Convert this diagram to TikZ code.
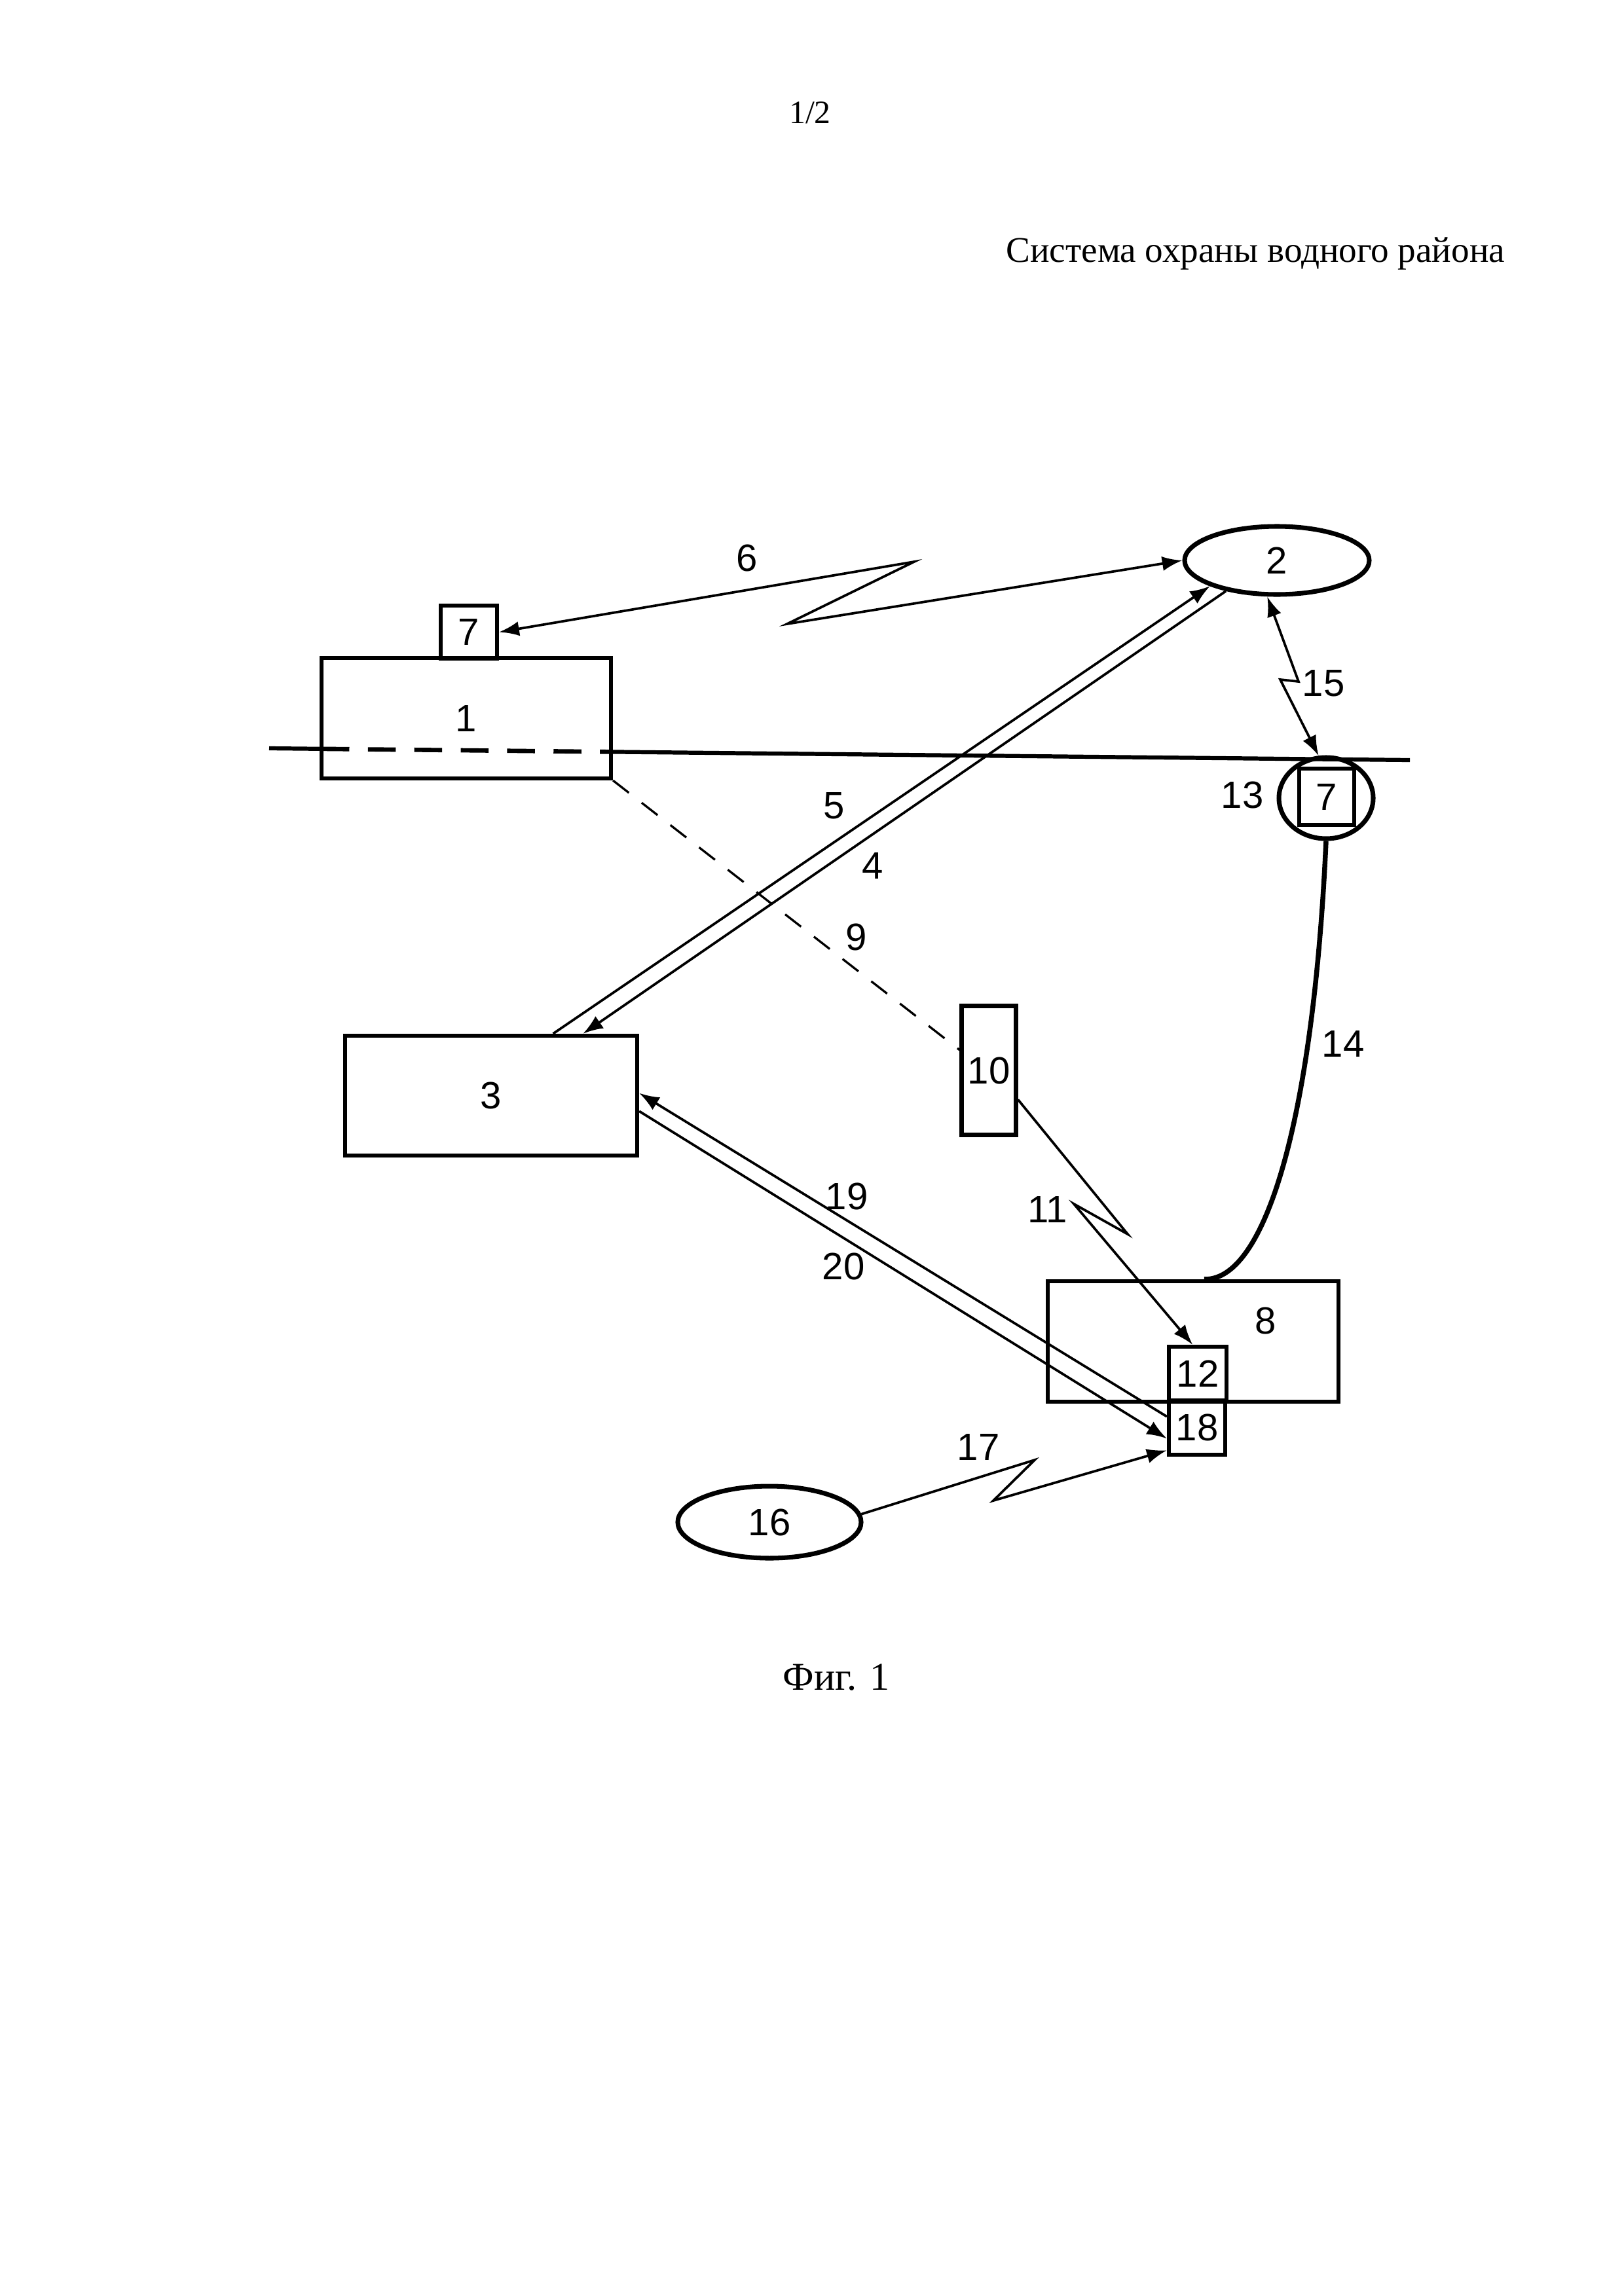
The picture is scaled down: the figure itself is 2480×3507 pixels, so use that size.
\documentclass[tikz,border=0pt]{standalone}
\usepackage{fontspec}
\setmainfont{Liberation Serif}
\newfontfamily\labfont{Liberation Sans}
\usetikzlibrary{shapes.geometric,arrows.meta,calc}
\begin{document}
\begin{tikzpicture}[x=0.084677mm,y=-0.084677mm,
  sz/.style 2 args={minimum width=#1*0.084677mm,minimum height=#2*0.084677mm},
  num/.style={font=\labfont\fontsize{14}{16}\selectfont,inner sep=0pt},
  box/.style={draw,line width=1.5pt,inner sep=0pt,num},
  oval/.style={draw,ellipse,line width=1.7pt,inner sep=0pt,num},
  conn/.style={line width=0.9pt},
  tipend/.style={-{Latex[length=2.6mm,width=1.9mm]}},
  tipboth/.style={{Latex[length=2.6mm,width=1.9mm]}-{Latex[length=2.6mm,width=1.9mm]}},
  ser/.style={font=\fontsize{13.3}{16}\selectfont,inner sep=0pt}]
\useasboundingbox (0,0) rectangle (2480,3507);

% header texts
\node[ser,font=\fontsize{12}{14}\selectfont] (pg) at (1237,172) {1/2};
\node[ser,anchor=east] (title) at (2299,387) {Система охраны водного района};
\node[ser,font=\fontsize{14.5}{16}\selectfont] (fig) at (1277,2562) {Фиг. 1};

% nodes
\node[box,sz={442}{184}] (b1) at (712,1097) {1};
\node[box,sz={86}{81}] (b7a) at (716,965.5) {7};
\node[oval,sz={282}{104}] (e2) at (1950,856) {2};
\node[oval,sz={144}{124}] (c13) at (2025,1219) {};
\node[box,sz={84}{86}] (b7b) at (2026,1217) {7};
\node[box,sz={446}{183}] (b3) at (750,1673.5) {3};
\node[box,sz={83}{197}] (b10) at (1510,1635) {10};
\node[box,sz={444}{184}] (b8) at (1822,2049) {};
\node[box,sz={88}{82}] (b12) at (1829,2098) {12};
\node[box,sz={86}{83}] (b18) at (1828,2180.5) {18};
\node[oval,sz={280}{110}] (e16) at (1175,2325) {16};

% labels
\node[num] (l6) at (1141,852) {6};
\node[num] (l15) at (2021,1044) {15};
\node[num] (l13) at (1897,1214) {13};
\node[num] (l5) at (1274,1231) {5};
\node[num] (l4) at (1333,1322) {4};
\node[num] (l9) at (1308,1431) {9};
\node[num] (l14) at (2051,1594) {14};
\node[num] (l11) at (1600,1847) {11};
\node[num] (l19) at (1293,1827) {19};
\node[num] (l20) at (1288,1934) {20};
\node[num] (l8) at (1933,2017) {8};
\node[num] (l17) at (1494,2210) {17};

% water line
\coordinate (wl) at (411,1143);
\coordinate (wr) at (2153,1161);
\draw[line width=1.5pt] (wl) -- ($(wl)!0.0459!(wr)$);
\draw[line width=1.6pt,dash pattern=on 3.6mm off 2.4mm] ($(wl)!0.0459!(wr)$) -- ($(wl)!0.2997!(wr)$);
\draw[line width=1.5pt] ($(wl)!0.2997!(wr)$) -- (wr);

% zigzag points
\coordinate (z6a) at (1396,858);
\coordinate (z6b) at (1202,953);
\coordinate (z15a) at (1983,1041);
\coordinate (z15b) at (1955,1038);
\coordinate (z11a) at (1722,1885);
\coordinate (z11b) at (1640,1839);
\coordinate (z17a) at (1580,2230);
\coordinate (z17b) at (1517,2292);

% connectors
\draw[conn,tipboth] (b7a.east) -- (z6a) -- (z6b) -- (e2.west);
\draw[conn,tipboth] (e2.255) -- (z15a) -- (z15b) -- (c13.100);
\draw[conn,tipend] (b3.45.8) -- (e2.201);
\draw[conn,tipend] (e2.211) -- (b3.34.5);
\draw[line width=0.8pt,dash pattern=on 2.6mm off 2.1mm] (b1.south east) -- (b10.145);
\draw[conn,tipend] (b10.-45) -- (z11a) -- (z11b) -- (b12.100);
\draw[line width=1.8pt] (c13.south) .. controls (2005,1720) and (1930,1957) .. (b8.80);
\draw[conn,tipend] (b18.160) -- (b3.1);
\draw[conn,tipend] (b3.-6) -- (b18.200);
\draw[conn,tipend] (e16.5) -- (z17a) -- (z17b) -- (b18.217);
\end{tikzpicture}
\end{document}
